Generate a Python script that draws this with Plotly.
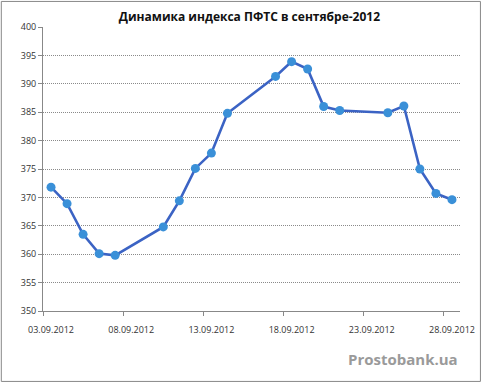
import plotly.graph_objects as go
import pandas as pd

title = "Динамика индекса ПФТС в сентябре-2012"
dates = ["2012-09-03", "2012-09-04", "2012-09-05", "2012-09-06", "2012-09-07",
         "2012-09-10", "2012-09-11", "2012-09-12", "2012-09-13", "2012-09-14",
         "2012-09-17", "2012-09-18", "2012-09-19", "2012-09-20", "2012-09-21",
         "2012-09-24", "2012-09-25", "2012-09-26", "2012-09-27", "2012-09-28"]
values = [371.8, 368.9, 363.5, 360.1, 359.8,
          364.8, 369.4, 375.1, 377.8, 384.8,
          391.3, 393.9, 392.6, 386.0, 385.3,
          384.9, 386.1, 375.0, 370.7, 369.6]
tick_dates = ["2012-09-03", "2012-09-08", "2012-09-13", "2012-09-18", "2012-09-23", "2012-09-28"]
tick_labels = [pd.Timestamp(d).strftime("%d.%m.%Y") for d in tick_dates]
y_ticks = list(range(350, 401, 5))
watermark = "Prostobank.ua"

half_day = pd.Timedelta(hours=12)
# points and labels sit in the middle of each day (Excel date axis style)
x = [pd.Timestamp(d) + half_day for d in dates]
label_pos = [pd.Timestamp(d) + half_day for d in tick_dates]

fig = go.Figure()
fig.add_trace(go.Scatter(
    x=x, y=values, mode="lines+markers",
    line=dict(color="#3b63c4", width=2.6),
    marker=dict(color="#3a90d8", size=9, line=dict(color="#3a90d8", width=0)),
    showlegend=False,
))

grid_color = "#8a8a8a"
fig.update_layout(
    width=483, height=384,
    margin=dict(l=43, r=23, t=27, b=73, autoexpand=False),
    paper_bgcolor="white", plot_bgcolor="white",
    font=dict(family="Open Sans, DejaVu Sans", color="#333333"),
    title=dict(text="<b>" + title + "</b>", x=0.495, xref="paper", xanchor="center",
               y=0.957, yanchor="middle",
               font=dict(size=12, color="#111111", family="Open Sans")),
    xaxis=dict(
        type="date", range=["2012-09-03", "2012-09-29"],
        tickvals=label_pos, ticktext=tick_labels,
        ticks="outside", ticklen=10, tickcolor="rgba(0,0,0,0)", automargin=False,
        minor=dict(tickvals=tick_dates, ticks="outside", ticklen=4, tickcolor="#888888", showgrid=False),
        showgrid=False, showline=True, linecolor="#888888", linewidth=1,
        tickfont=dict(size=9, color="#333333"),
        zeroline=False,
    ),
    yaxis=dict(
        range=[350, 400], tickvals=y_ticks, automargin=False,
        ticks="outside", ticklen=4, tickcolor="#888888",
        showgrid=True, gridcolor=grid_color, griddash="1px,1px", gridwidth=1,
        showline=True, linecolor="#888888", linewidth=1,
        tickfont=dict(size=9, color="#333333"),
        zeroline=False,
    ),
)

fig.add_annotation(text="<b>" + watermark + "</b>", xref="paper", yref="paper",
                   x=1.0, y=-0.17, xanchor="right", yanchor="middle", showarrow=False,
                   font=dict(size=15, color="#9a9a9a", family="Open Sans"))

fig.add_shape(type="rect", xref="paper", yref="paper",
              x0=-0.1, x1=1.049, y0=-0.248, y1=1.09,
              line=dict(color="#888888", width=1), fillcolor="rgba(0,0,0,0)", layer="above")

fig.write_html("out.html", config={"displayModeBar": False},
               post_script="document.body.style.margin='0';document.body.style.overflow='hidden';")
